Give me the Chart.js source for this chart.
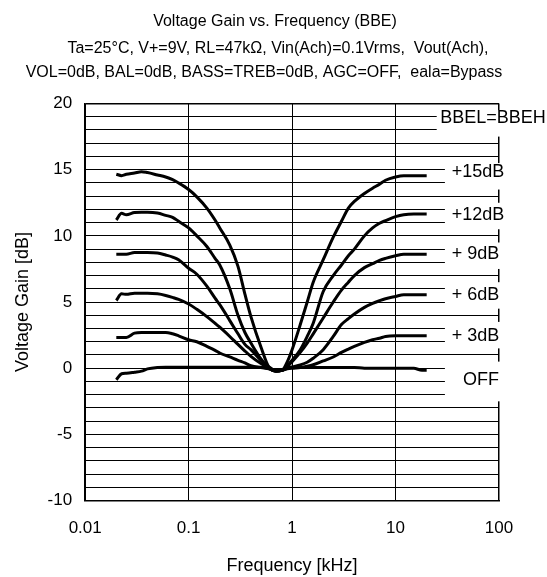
<!DOCTYPE html>
<html>
<head>
<meta charset="utf-8">
<script src="https://cdn.jsdelivr.net/npm/chart.js@4.4.1/dist/chart.umd.min.js"></script>
<style>
  html, body { margin: 0; padding: 0; background: #fff; }
  #wrap { width: 547px; height: 577px; }
</style>
</head>
<body>
<div id="wrap"><canvas id="chart"></canvas></div>
<script>
// frequency points in kHz, shared by every curve
const freqs = [0.02, 0.0225, 0.025, 0.03, 0.035, 0.04, 0.05, 0.06, 0.07, 0.08,
               0.1, 0.12, 0.15, 0.18, 0.2, 0.25, 0.3, 0.35, 0.4, 0.5,
               0.6, 0.7, 0.8, 0.9, 1.0, 1.2, 1.4, 1.6,
               2.0, 2.5, 3.0, 3.5, 4.0, 5.0, 6.0, 7.0, 8.0, 10, 12, 15, 18, 20];

// voltage gain in dB for each BBE setting
const gain15 = [14.66, 14.55, 14.65, 14.75, 14.85, 14.78, 14.6, 14.45, 14.25, 14.0,
                13.5, 12.95, 12.1, 11.2, 10.6, 9.3, 7.7, 5.6, 3.9, 1.6,
                0.05, -0.2, -0.15, 0.5, 1.4, 3.3, 5.0, 6.5,
                8.2, 9.9, 11.1, 12.1, 12.6, 13.2, 13.6, 13.9, 14.2, 14.45, 14.55, 14.55, 14.55, 14.55];
const gain12 = [11.2, 11.7, 11.6, 11.76, 11.78, 11.78, 11.72, 11.55, 11.4, 11.1,
                10.6, 10.0, 9.2, 8.3, 7.8, 6.0, 4.0, 2.7, 1.9, 0.7,
                0.0, -0.2, -0.15, 0.2, 0.6, 1.4, 2.4, 3.4,
                5.8, 7.0, 7.8, 8.5, 9.0, 10.0, 10.6, 10.95, 11.15, 11.45, 11.6, 11.65, 11.65, 11.65];
const gain9 = [8.62, 8.62, 8.62, 8.74, 8.74, 8.74, 8.7, 8.55, 8.4, 8.2,
               7.55, 7.1, 6.2, 5.3, 4.8, 3.6, 2.6, 1.8, 1.4, 0.6,
               0.1, -0.2, -0.15, 0.15, 0.5, 1.2, 1.9, 2.6,
               3.8, 5.0, 5.9, 6.5, 7.0, 7.6, 7.9, 8.15, 8.3, 8.5, 8.62, 8.62, 8.62, 8.62];
const gain6 = [5.12, 5.62, 5.58, 5.67, 5.67, 5.67, 5.62, 5.5, 5.35, 5.2,
               4.85, 4.45, 3.9, 3.4, 3.1, 2.4, 1.8, 1.3, 0.9, 0.35,
               0.0, -0.2, -0.15, 0.0, 0.1, 0.25, 0.45, 0.75,
               1.4, 2.4, 3.3, 3.75, 4.1, 4.6, 4.9, 5.1, 5.25, 5.42, 5.55, 5.55, 5.55, 5.55];
const gain3 = [2.33, 2.33, 2.33, 2.65, 2.7, 2.7, 2.7, 2.7, 2.6, 2.45,
               2.15, 2.0, 1.65, 1.35, 1.15, 0.85, 0.6, 0.4, 0.2, 0.05,
               -0.05, -0.2, -0.15, -0.05, 0.0, 0.06, 0.15, 0.26,
               0.55, 0.85, 1.2, 1.45, 1.65, 1.95, 2.15, 2.27, 2.4, 2.45, 2.45, 2.45, 2.45, 2.45];
const gainOff = [-0.87, -0.42, -0.38, -0.3, -0.22, -0.05, 0.06, 0.08, 0.08, 0.08,
                 0.08, 0.08, 0.08, 0.08, 0.08, 0.08, 0.08, 0.08, 0.08, 0.08,
                 -0.05, -0.2, -0.15, 0.0, 0.06, 0.06, 0.06, 0.06,
                 0.06, 0.06, 0.06, 0.06, 0.06, 0.0, 0.0, 0.0, 0.0, 0.0, 0.0, 0.0, -0.15, -0.15];

const xTicks = [0.01, 0.1, 1, 10, 100];

// curve names written at the right-hand edge
const curveLabels = ['BBEL=BBEH', '+15dB', '+12dB', '+ 9dB', '+ 6dB', '+ 3dB', 'OFF'];
const labelDb = [18.9, 14.8, 11.6, 8.6, 5.5, 2.45, -0.9];

const titleText = 'Voltage Gain vs. Frequency (BBE)';
const conditionLines = ['Ta=25°C, V+=9V, RL=47kΩ, Vin(Ach)=0.1Vrms,  Vout(Ach),',
                        'VOL=0dB, BAL=0dB, BASS=TREB=0dB, AGC=OFF,  eala=Bypass'];

const FONT = '"Liberation Sans", Arial, sans-serif';

// title and measuring conditions above the plot
const header = {
  id: 'header',
  afterDraw(chart) {
    const ctx = chart.ctx;
    ctx.save();
    ctx.fillStyle = '#000';
    ctx.textAlign = 'center';
    ctx.textBaseline = 'middle';
    ctx.font = '16px ' + FONT;
    ctx.fillText(titleText, 275, 22);
    ctx.fillText(conditionLines[0], 278, 49);
    ctx.fillText(conditionLines[1], 264, 73);
    ctx.restore();
  }
};

// white boxes behind the curve names (dB span + start frequency), then the text
const labelBoxes = {
  id: 'labelBoxes',
  afterDraw(chart) {
    const ctx = chart.ctx;
    const x = chart.scales.x, y = chart.scales.y;
    const tops = [19.5, 15.5, 12.5, 9.5, 6.5, 3.5, 0.5];
    const bottoms = [17.5, 13.5, 10.5, 7.5, 4.5, 1.5, -2.5];
    const boxFrom = [25, 30, 30, 30, 30, 30, 30];
    const textFrom = [27, 35, 35, 35, 35, 35, 45];
    ctx.save();
    curveLabels.forEach((txt, i) => {
      const x0 = x.getPixelForValue(boxFrom[i]);
      const y0 = y.getPixelForValue(tops[i]);
      const y1 = y.getPixelForValue(bottoms[i]);
      ctx.fillStyle = '#fff';
      ctx.fillRect(x0, y0, chart.width - x0, y1 - y0);
      ctx.fillStyle = '#000';
      ctx.font = '18px ' + FONT;
      ctx.textAlign = 'left';
      ctx.textBaseline = 'middle';
      ctx.fillText(txt, x.getPixelForValue(textFrom[i]), y.getPixelForValue(labelDb[i]));
    });
    ctx.restore();
  }
};

function series(vals) {
  return {
    data: freqs.map((f, i) => ({ x: f, y: vals[i] })),
    borderColor: '#000',
    borderWidth: 3,
    pointRadius: 0,
    fill: false,
    cubicInterpolationMode: 'monotone'
  };
}

new Chart(document.getElementById('chart'), {
  type: 'line',
  data: {
    datasets: [series(gain15), series(gain12), series(gain9), series(gain6), series(gain3), series(gainOff)]
  },
  options: {
    responsive: true,
    maintainAspectRatio: false,
    animation: false,
    layout: { padding: { left: 12, right: 48, top: 103.5, bottom: 2 } },
    plugins: {
      legend: { display: false },
      tooltip: { enabled: false },
      title: { display: false }
    },
    scales: {
      x: {
        type: 'logarithmic',
        min: 0.01,
        max: 100,
        afterBuildTicks: s => { s.ticks = xTicks.map(v => ({ value: v })); },
        ticks: {
          color: '#000',
          font: { family: FONT, size: 17 },
          padding: 18,
          maxRotation: 0,
          autoSkip: false,
          callback: v => String(v)
        },
        grid: {
          color: '#000',
          lineWidth: c => (c.tick && c.tick.value === 100 ? 1.5 : 1),
          drawTicks: false
        },
        border: { color: '#000', width: 1.5 },
        title: {
          display: true,
          text: 'Frequency [kHz]',
          color: '#000',
          font: { family: FONT, size: 18, lineHeight: 1 },
          padding: { top: 0, bottom: 0 }
        }
      },
      y: {
        min: -10,
        max: 20,
        ticks: {
          stepSize: 1,
          autoSkip: false,
          color: '#000',
          font: { family: FONT, size: 17 },
          padding: 13,
          callback: v => (v % 5 === 0 ? String(v) : '')
        },
        grid: {
          color: '#000',
          lineWidth: c => (c.tick && c.tick.value === 20 ? 1.5 : 1),
          drawTicks: false
        },
        border: { color: '#000', width: 1.5 },
        title: {
          display: true,
          text: 'Voltage Gain [dB]',
          color: '#000',
          font: { family: FONT, size: 18 },
          padding: { top: 0, bottom: 1 }
        }
      }
    }
  },
  plugins: [header, labelBoxes]
});
</script>
</body>
</html>
